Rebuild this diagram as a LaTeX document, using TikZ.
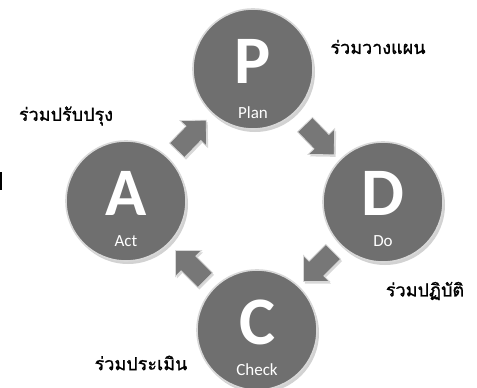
\documentclass[tikz,border=0pt]{standalone}
\usepackage{fontspec}
\setmainfont{Carlito}
\newfontfamily\thaifont[Script=Thai,FakeBold=1.2]{Loma}
\usetikzlibrary{shapes.arrows,shadows}
\definecolor{ballgray}{HTML}{6F6F6F}
\definecolor{ballrim}{HTML}{D8D8D8}
\definecolor{arrowgray}{HTML}{777777}
\tikzset{
  ball/.style={circle, minimum size=120pt, inner sep=0pt, fill=ballgray,
    draw=ballrim, line width=1.6pt,
    drop shadow={shadow xshift=2pt, shadow yshift=-3pt, opacity=0.35}},
  bigletter/.style={text=white, font=\fontsize{68}{68}\selectfont\bfseries},
  sublabel/.style={text=white, font=\fontsize{17}{17}\selectfont},
  thailabel/.style={text=black, font=\thaifont\fontsize{18}{18}\selectfont},
  blockarrow/.style={single arrow, fill=arrowgray, draw=ballrim, line width=0.8pt,
    minimum height=42pt, inner xsep=0pt, inner ysep=10pt,
    single arrow head extend=8pt, single arrow tip angle=90,
    drop shadow={shadow xshift=1.5pt, shadow yshift=-2pt, opacity=0.3}}
}
\begin{document}
\begin{tikzpicture}[x=1pt,y=-1pt]
\useasboundingbox (0,0) rectangle (477,388);
\clip (0,0) rectangle (477,388);
\fill[white] (0,0) rectangle (477,388);
\fill[black] (0,172) rectangle (2,190);
% circles
\node[ball] (P) at (253,69) {};
\node[ball] (D) at (383,202) {};
\node[ball] (C) at (257,330) {};
\node[ball] (A) at (126,201) {};
% letters
\node[bigletter] (Pl) at (253,61) {P};
\node[bigletter] (Dl) at (383,193) {D};
\node[bigletter] (Cl) at (257,322) {C};
\node[bigletter] (Al) at (126,193) {A};
\node[sublabel] (Ps) at (253,113) {Plan};
\node[sublabel] (Ds) at (383,241) {Do};
\node[sublabel] (Cs) at (257,370) {Check};
\node[sublabel] (As) at (126,241) {Act};
% arrows
\node[blockarrow, rotate=46] (a1) at (188,139) {};
\node[blockarrow, rotate=-46] (a2) at (316,136) {};
\node[blockarrow, rotate=-135] (a3) at (322,263) {};
\node[blockarrow, rotate=135] (a4) at (194,269) {};
% thai labels
\node[thailabel] (t1) at (378,47) {ร่วมวางแผน};
\node[thailabel] (t2) at (66,116) {ร่วมปรับปรุง};
\node[thailabel] (t3) at (425,291) {ร่วมปฏิบัติ};
\node[thailabel] (t4) at (141,363) {ร่วมประเมิน};
\end{tikzpicture}
\end{document}
